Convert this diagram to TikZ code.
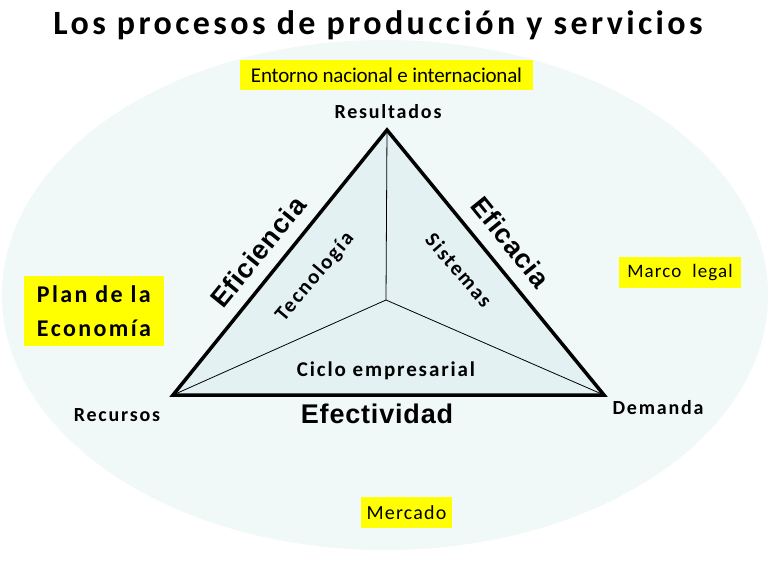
\documentclass[tikz,border=0pt]{standalone}
\usepackage{fontspec}
\setmainfont{Carlito}
\newfontfamily\calsp[LetterSpace=6]{Carlito}
\newfontfamily\calspw[LetterSpace=9]{Carlito}
\newfontfamily\calspb[LetterSpace=10]{Carlito}
\newfontfamily\calcond[LetterSpace=-1]{Carlito}
\newfontfamily\arialb[LetterSpace=3]{Liberation Sans}
\definecolor{ellfill}{HTML}{F0F8F8}
\definecolor{trifill}{HTML}{E3F1F3}
\definecolor{ybox}{HTML}{FFFF00}
\begin{document}
\begin{tikzpicture}[x=1pt,y=-1pt,
  yellowbox/.style={fill=ybox,inner sep=0pt,text=black},
  vlabel/.style={font=\calspw\bfseries\fontsize{20}{22}\selectfont},
  sidelabel/.style={font=\arialb\bfseries\fontsize{27}{30}\selectfont},
  innerlabel/.style={font=\calspw\bfseries\fontsize{21}{23}\selectfont}]
\useasboundingbox (0,0) rectangle (769,576);
\fill[white] (0,0) rectangle (769,576);
% background ellipse
\fill[ellfill] (385,295) ellipse [x radius=383, y radius=255];
% title
\node[font=\calspb\bfseries\fontsize{34}{38}\selectfont] (title) at (378,25) {Los procesos de producción y servicios};
% triangle
\coordinate (R) at (387,130);
\coordinate (L) at (173,395);
\coordinate (D) at (604,395);
\coordinate (C) at (386,300);
\fill[trifill] (R) -- (L) -- (D) -- cycle;
\draw[line width=0.8pt] (R) -- (C) (L) -- (C) (D) -- (C);
\draw[line width=3.5pt,line join=miter] (R) -- (L) -- (D) -- cycle;
% yellow boxes
\node[yellowbox,minimum width=293,minimum height=30,font=\calcond\fontsize{21}{24}\selectfont] (entorno) at (386.5,75) {Entorno nacional e internacional};
\node[yellowbox,minimum width=122,minimum height=31,font=\calsp\fontsize{19}{22}\selectfont] (marco) at (680,272.5) {Marco~ legal};
\node[yellowbox,minimum width=140,minimum height=70,align=left,font=\calspb\bfseries\fontsize{24}{34}\selectfont] (plan) at (94,311) {Plan de la\\Economía};
\node[yellowbox,minimum width=91,minimum height=31,font=\calsp\fontsize{20}{22}\selectfont] (mercado) at (406.5,512.5) {Mercado};
% vertex labels
\node[vlabel] (res) at (388,112) {Resultados};
\node[vlabel] (rec) at (117,415) {Recursos};
\node[vlabel] (dem) at (658,408) {Demanda};
% side labels
\node[sidelabel] (efect) at (377,414) {Efectividad};
\node[sidelabel,rotate=51] (efici) at (258,252) {Eficiencia};
\node[sidelabel,rotate=-51] (efica) at (511,242) {Eficacia};
% inner labels
\node[innerlabel,rotate=50] (tec) at (315,277) {Tecnología};
\node[innerlabel,rotate=-49] (sis) at (459,270) {Sistemas};
\node[innerlabel] (ciclo) at (386,371) {Ciclo empresarial};
\end{tikzpicture}
\end{document}
